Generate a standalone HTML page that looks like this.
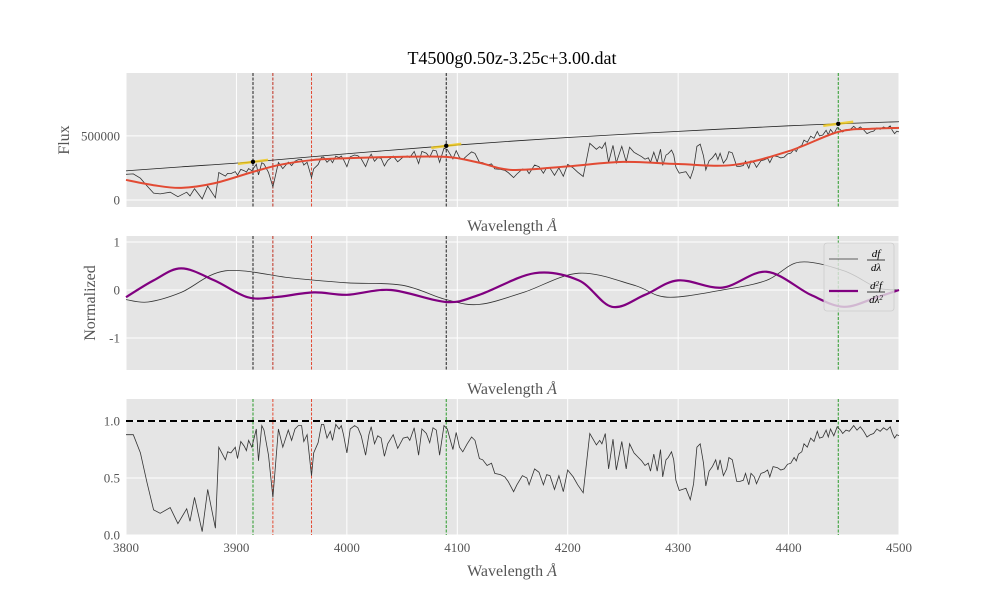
<!DOCTYPE html>
<html><head><meta charset="utf-8">
<style>
body{margin:0;background:#fff;}
svg{display:block;font-family:"Liberation Serif",serif;}
</style></head>
<body>
<svg id="chart" width="1000" height="600" viewBox="0 0 1000 600"></svg>
<script>
// ===== data =====
const specWave = [3800,3806.6,3813,3819,3825,3831,3840,3847,3855,3858,3862,3869,3874,3881,3884,3890,3892,3895,3899,3901,3904,3907,3909,3911,3914,3918,3920,3923,3925,3929,3933,3938,3942,3947,3950,3953,3956,3959,3961,3964,3968,3970,3974,3977,3979,3982,3985,3987,3990,3993,3995,3997,4000,4003,4007,4010,4013,4017,4020,4022,4025,4028,4031,4034,4037,4042,4046,4051,4055,4057,4061,4065,4068,4072,4075,4078,4081,4084,4088,4091,4096,4099,4102,4105,4109,4113,4116,4120,4123,4127,4131,4134,4139,4143,4146,4151,4154,4159,4163,4165,4170,4174,4178,4181,4184,4188,4192,4196,4200,4205,4209,4214,4217,4220,4223,4226,4229,4231,4234,4237,4241,4244,4249,4253,4256,4260,4264,4267,4270,4273,4275,4278,4281,4284,4286,4289,4291,4294,4296,4298,4301,4304,4307,4311,4314,4317,4320,4323,4325,4328,4331,4334,4336,4338,4341,4344,4346,4349,4353,4356,4359,4361,4364,4366,4369,4371,4375,4378,4381,4383,4386,4390,4393,4396,4399,4402,4405,4407,4409,4412,4414,4417,4420,4423,4426,4428,4431,4434,4436,4438,4441,4444,4447,4449,4452,4455,4459,4462,4465,4468,4471,4474,4477,4480,4483,4486,4489,4492,4494,4496,4498,4500];
const specNorm = [0.88,0.88,0.72,0.46,0.22,0.19,0.24,0.10,0.23,0.12,0.33,0.03,0.40,0.06,0.77,0.66,0.73,0.72,0.77,0.67,0.82,0.78,0.74,0.83,0.77,0.93,0.65,0.96,0.92,0.70,0.33,0.93,0.77,0.92,0.83,0.93,0.96,0.96,0.82,0.88,0.52,0.72,0.81,0.97,0.97,0.85,0.91,0.83,0.97,0.93,0.96,0.88,0.72,0.93,0.96,0.94,0.87,0.70,0.88,0.95,0.80,0.87,0.85,0.69,0.80,0.88,0.76,0.85,0.86,0.83,0.94,0.70,0.93,0.89,0.81,0.94,0.92,0.70,0.96,0.93,0.75,0.90,0.77,0.73,0.80,0.86,0.83,0.67,0.66,0.61,0.63,0.54,0.53,0.51,0.47,0.38,0.44,0.52,0.50,0.44,0.58,0.55,0.44,0.53,0.52,0.40,0.52,0.38,0.57,0.51,0.44,0.37,0.63,0.89,0.84,0.79,0.83,0.80,0.89,0.58,0.84,0.57,0.82,0.58,0.80,0.72,0.68,0.65,0.61,0.63,0.56,0.71,0.56,0.75,0.51,0.66,0.68,0.73,0.66,0.48,0.39,0.40,0.41,0.31,0.45,0.77,0.80,0.63,0.43,0.56,0.60,0.66,0.57,0.66,0.52,0.58,0.68,0.66,0.47,0.47,0.48,0.54,0.44,0.54,0.51,0.45,0.54,0.55,0.57,0.51,0.60,0.59,0.57,0.58,0.62,0.63,0.68,0.65,0.71,0.73,0.80,0.77,0.85,0.82,0.91,0.85,0.86,0.92,0.86,0.93,0.87,0.95,0.92,0.89,0.92,0.91,0.96,0.92,0.95,0.91,0.86,0.88,0.89,0.93,0.91,0.94,0.92,0.95,0.89,0.85,0.88,0.87];
const contWave = [3800,3850,3915,4000,4090,4200,4300,4400,4445,4500];
const contFlux = [227000,258000,297000,360000,422000,487000,535000,578000,594000,610000];
const smoothWave = [3800,3825,3850,3880,3915,3940,3970,4000,4040,4090,4120,4150,4200,4250,4300,4350,4400,4445,4475,4500];
const smoothFlux = [156000,115000,94000,130000,219000,275000,312000,325000,335000,336000,290000,234000,262000,297000,280000,273000,380000,531000,555000,562000];
const anchorWave = [3915,4090,4445];
const anchorFlux = [297000,422000,594000];
const derivWave = [3800,3820,3850,3890,3950,4000,4050,4090,4120,4160,4210,4260,4290,4340,4380,4410,4450,4480,4500];
const deriv1 = [-0.2,-0.25,-0.05,0.4,0.25,0.15,0.1,-0.2,-0.3,-0.05,0.35,0.1,-0.15,0,0.2,0.58,0.4,0.05,0];
const deriv2Wave = [3800,3825,3850,3880,3910,3935,3970,4000,4040,4090,4120,4170,4210,4240,4270,4300,4340,4380,4420,4450,4480,4500];
const deriv2 = [-0.15,0.2,0.45,0.2,-0.15,-0.15,-0.05,-0.1,0,-0.25,-0.1,0.35,0.2,-0.35,-0.1,0.2,0.05,0.38,-0.1,-0.35,-0.15,0];
const markWave = [3915,3933,3968,4090,4445];
const xTicks = [3800,3900,4000,4100,4200,4300,4400,4500];
const fluxTicks = [0,500000];
const fluxTickLabels = ["0","500000"];
const normTicks = [-1,0,1];
const bottomTicks = [0,0.5,1.0];
const bottomTickLabels = ["0.0","0.5","1.0"];

// ===== layout =====
const NS="http://www.w3.org/2000/svg";
const svg=document.getElementById('chart');
const X0=126,X1=899;
const xs=w=>X0+(w-3800)/700*(X1-X0);
const P1={top:73,bot:207,min:-55000,max:990000};
const P2={top:236,bot:370,min:-1.667,max:1.125};
const P3={top:399,bot:535,min:0,max:1.193};
const ys=(p,v)=>p.bot-(v-p.min)/(p.max-p.min)*(p.bot-p.top);
function el(tag,attrs,parent){const e=document.createElementNS(NS,tag);for(const k in attrs)e.setAttribute(k,attrs[k]);(parent||svg).appendChild(e);return e;}
function interp(xa,ya,x){for(let i=0;i<xa.length-1;i++){if(x<=xa[i+1]){const t=(x-xa[i])/(xa[i+1]-xa[i]);return ya[i]+t*(ya[i+1]-ya[i]);}}return ya[ya.length-1];}
function smoothPath(pts){let d=`M${pts[0][0]},${pts[0][1]}`;for(let i=0;i<pts.length-1;i++){const p0=pts[Math.max(0,i-1)],p1=pts[i],p2=pts[i+1],p3=pts[Math.min(pts.length-1,i+2)];const c1=[p1[0]+(p2[0]-p0[0])/6,p1[1]+(p2[1]-p0[1])/6],c2=[p2[0]-(p3[0]-p1[0])/6,p2[1]-(p3[1]-p1[1])/6];d+=`C${c1[0]},${c1[1]} ${c2[0]},${c2[1]} ${p2[0]},${p2[1]}`;}return d;}
function panel(p,name,yt,ylab){
  const g=el('g',{});
  el('rect',{x:X0,y:p.top,width:X1-X0,height:p.bot-p.top,fill:'#e5e5e5'},g);
  xTicks.forEach(t=>el('line',{x1:xs(t),x2:xs(t),y1:p.top,y2:p.bot,stroke:'#fff','stroke-width':1},g));
  yt.forEach((t,i)=>{const y=ys(p,t);el('line',{x1:X0,x2:X1,y1:y,y2:y,stroke:'#fff','stroke-width':1},g);
    const tx=el('text',{x:X0-6,y:y+4.5,'text-anchor':'end','font-size':13,fill:'#555'},g);tx.textContent=ylab[i];
    });
  return g;}
function vlines(p,g,colors){markWave.forEach((w,i)=>{const l=el('line',{x1:xs(w),x2:xs(w),y1:p.top,y2:p.bot,stroke:colors[i],'stroke-width':1,'stroke-dasharray':'3,1.5'},g);
  });}
function label(x,y,txt,name,rot,size){const t=el('text',{x:x,y:y,'text-anchor':'middle','font-size':size||16,fill:'#555',transform:rot?`rotate(-90 ${x} ${y})`:''});t.innerHTML=txt;
  return t;}

const ti=el('text',{x:512,y:64,'text-anchor':'middle','font-size':18,fill:'#000'});ti.textContent='T4500g0.50z-3.25c+3.00.dat';


// panel 1
const g1=panel(P1,'flux-panel',fluxTicks,fluxTickLabels);
vlines(P1,g1,['#222','#c03020','#e24a33','#222','#2a9a2a']);
let d='';specWave.forEach((w,i)=>{const f=specNorm[i]*interp(contWave,contFlux,w);d+=(i?'L':'M')+xs(w).toFixed(1)+','+ys(P1,f).toFixed(1);});
const fl=el('path',{d:d,fill:'none',stroke:'#333','stroke-width':0.8},g1);
const ct=el('path',{d:smoothPath(contWave.map((w,i)=>[xs(w),ys(P1,contFlux[i])])),fill:'none',stroke:'#222','stroke-width':0.8},g1);

const sm=el('path',{d:smoothPath(smoothWave.map((w,i)=>[xs(w),ys(P1,smoothFlux[i])])),fill:'none',stroke:'#e24a33','stroke-width':2},g1);

anchorWave.forEach((w,i)=>{const x=xs(w),y=ys(P1,anchorFlux[i]);
  const yl=el('line',{x1:x-15,x2:x+15,y1:y+2,y2:y-2,stroke:'#f0c814','stroke-width':2.5,opacity:0.8},g1);
  
  const c=el('circle',{cx:x,cy:y,r:2.2,fill:'#000'},g1);});
label(512,231,'Wavelength <tspan font-style="italic">Å</tspan>','x-axis-title-1');
label(69,140,'Flux','y-axis-title-flux',true);

// panel 2
const g2=panel(P2,'derivative-panel',normTicks,normTicks.map(String));
vlines(P2,g2,['#222','#c03020','#e24a33','#222','#2a9a2a']);
const d1=el('path',{d:smoothPath(derivWave.map((w,i)=>[xs(w),ys(P2,deriv1[i])])),fill:'none',stroke:'#333','stroke-width':0.8},g2);

const d2=el('path',{d:smoothPath(deriv2Wave.map((w,i)=>[xs(w),ys(P2,deriv2[i])])),fill:'none',stroke:'#800080','stroke-width':2.2},g2);

const lg=el('g',{});
el('rect',{x:824,y:243,width:70,height:68,rx:3,fill:'#e5e5e5','fill-opacity':0.8,stroke:'#cccccc','stroke-width':0.8},lg);
el('line',{x1:829,x2:858,y1:259,y2:259,stroke:'#333','stroke-width':0.8},lg);
el('line',{x1:829,x2:858,y1:291,y2:291,stroke:'#800080','stroke-width':2.2},lg);
function frac(x,y,num,den,name){const n=el('text',{x:x,y:y-3,'text-anchor':'middle','font-size':11,'font-style':'italic',fill:'#000'},lg);n.innerHTML=num;
 el('line',{x1:x-9,x2:x+9,y1:y,y2:y,stroke:'#000','stroke-width':0.7},lg);
 const dd=el('text',{x:x,y:y+11,'text-anchor':'middle','font-size':11,'font-style':'italic',fill:'#000'},lg);dd.innerHTML=den;
 }
frac(876,260,'df','dλ','legend-label-df');
frac(876,292,'d<tspan font-size="7" dy="-3">2</tspan><tspan dy="3">f</tspan>','dλ<tspan font-size="7" dy="-3">2</tspan>','legend-label-d2f');
label(512,394,'Wavelength <tspan font-style="italic">Å</tspan>','x-axis-title-2');
label(95,303,'Normalized','y-axis-title-normalized',true);

// panel 3
const g3=panel(P3,'normalized-panel',bottomTicks,bottomTickLabels);
vlines(P3,g3,['#2a9a2a','#e24a33','#e24a33','#2a9a2a','#2a9a2a']);
let d3='';specWave.forEach((w,i)=>{d3+=(i?'L':'M')+xs(w).toFixed(1)+','+ys(P3,specNorm[i]).toFixed(1);});
const nl=el('path',{d:d3,fill:'none',stroke:'#333','stroke-width':0.8},g3);
const ref=el('line',{x1:X0,x2:X1,y1:ys(P3,1),y2:ys(P3,1),stroke:'#000','stroke-width':2,'stroke-dasharray':'7,4'},g3);

xTicks.forEach(t=>{const tx=el('text',{x:xs(t),y:552,'text-anchor':'middle','font-size':13,fill:'#555'});tx.textContent=t;
 });
label(512,576,'Wavelength <tspan font-style="italic">Å</tspan>','x-axis-title-3');
</script>
</body></html>
